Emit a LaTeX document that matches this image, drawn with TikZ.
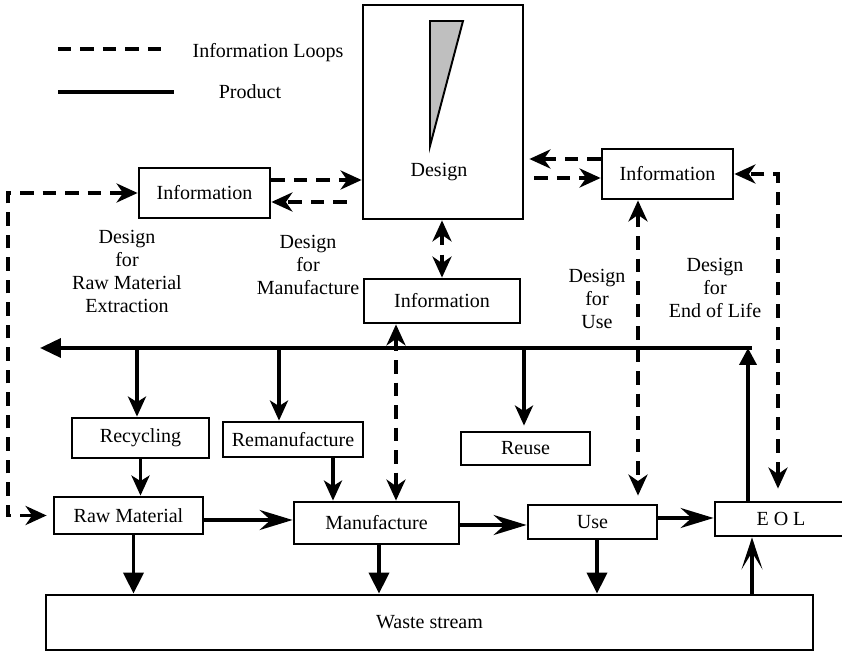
\documentclass[tikz,border=0pt]{standalone}
\usepackage{fontspec}
\setmainfont{Liberation Serif}
\usepackage{tikz}
\usetikzlibrary{calc, positioning, arrows.meta}
\newcommand\txtfont{\fontsize{11.4}{13.1}\selectfont}
\tikzset{
    box/.style={rectangle, draw=black, line width=1.6pt, fill=white, inner sep=0pt, align=center, font=\txtfont},
    note/.style={align=center, inner sep=0pt, font=\txtfont},
    infoloop/.style={line width=2.1pt, dash pattern=on 0.27cm off 0.18cm},
    product/.style={line width=2.1pt},
    infoTip/.tip={Stealth[length=0.42cm, width=0.38cm, inset=0.13cm]},
    flowTip/.tip={Stealth[length=0.66cm, width=0.4cm, inset=0.22cm]},
    dropTip/.tip={Stealth[length=0.4cm, width=0.36cm, inset=0.11cm]},
    wasteTip/.tip={Triangle[length=0.42cm, width=0.4cm]},
    upTip/.tip={Triangle[length=0.34cm, width=0.34cm]},
    busTip/.tip={Triangle[length=0.42cm, width=0.38cm]},
    openTip/.tip={Stealth[length=0.64cm, width=0.42cm, inset=0.34cm]}
}

\begin{document}
\begin{tikzpicture}[x=0.02cm, y=-0.02cm]
    \useasboundingbox (0,0) rectangle (842,651);
    \clip (0,0) rectangle (842,651);

    % Legend
    \coordinate (legA) at (58,49);
    \coordinate (legB) at (165,49);
    \coordinate (legC) at (58,92);
    \coordinate (legD) at (174,92);
    \draw[infoloop] (legA) -- (legB);
    \draw[product] (legC) -- (legD);
    \node[note] (legInfo) at (268,53) {Information Loops};
    \node[note] (legProd) at (250,92) {Product};

    % Design block
    \node[box, minimum width=3.2cm, minimum height=4.28cm] (design) at (443,112) {};
    \draw[fill=gray!50, line width=1.1pt] (430,21) -- (463,21) -- (430,146) -- cycle;
    \node[note] (designTxt) at (439,172) {Design};

    % Information boxes
    \node[box, minimum width=2.62cm, minimum height=1cm] (infoL) at (204.5,193) {Information};
    \node[box, minimum width=2.62cm, minimum height=1cm] (infoR) at (667.5,174) {Information};
    \node[box, minimum width=3.12cm, minimum height=0.88cm] (infoM) at (442,301) {Information};

    % Recovery boxes
    \node[box, minimum width=2.74cm, minimum height=0.8cm] (recyc) at (140.5,438) {Recycling};
    \node[box, minimum width=2.8cm, minimum height=0.7cm] (reman) at (293,439.5) {Remanufacture};
    \node[box, minimum width=2.58cm, minimum height=0.66cm] (reuse) at (525.5,448.5) {Reuse};

    % Life cycle stages
    \node[box, minimum width=2.98cm, minimum height=0.74cm] (raw) at (128.5,515.5) {Raw Material};
    \node[box, minimum width=3.3cm, minimum height=0.84cm] (manu) at (376.5,523) {Manufacture};
    \node[box, minimum width=2.58cm, minimum height=0.68cm] (use) at (592.5,522) {Use};
    \node[box, minimum width=2.64cm, minimum height=0.68cm] (eol) at (781,519) {E O L};
    \node[box, minimum width=15.34cm, minimum height=1.1cm] (waste) at (429.5,622.5) {Waste stream};

    % Design for ... labels
    \node[note] (dfRaw) at (127,271.5) {Design\\for\\Raw Material\\Extraction};
    \node[note] (dfMan) at (308,265) {Design\\for\\Manufacture};
    \node[note] (dfUse) at (597,298.5) {Design\\for\\Use};
    \node[note] (dfEol) at (715,288) {Design\\for\\End of Life};

    % Information loops
    \draw[infoloop, -infoTip] ([yshift=0.26cm]infoL.east) -- ([yshift=0.26cm]infoL.east -| design.west);
    \draw[infoloop, -infoTip, shorten <=0.3cm] ([yshift=-0.18cm]infoL.east -| design.west) -- ([yshift=-0.18cm]infoL.east);
    \draw[infoloop, -infoTip, shorten >=0.1cm] ([yshift=0.3cm]infoR.west) -- ([yshift=0.3cm]infoR.west -| design.east);
    \draw[infoloop, -infoTip, shorten <=0.2cm] ([yshift=-0.08cm]infoR.west -| design.east) -- ([yshift=-0.08cm]infoR.west);
    \draw[infoloop, dash pattern=on 0.22cm off 0.2cm, infoTip-infoTip] (infoM.north |- design.south) -- (infoM.north);
    \draw[infoloop, infoTip-infoTip] ([xshift=-0.92cm]infoM.south) -- ([xshift=-0.92cm]infoM.south |- manu.north);
    \draw[infoloop, infoTip-infoTip, shorten >=0.16cm] ([xshift=-0.59cm]infoR.south) -- ([xshift=-0.59cm]infoR.south |- use.north);
    \draw[infoloop, infoTip-infoTip, shorten <=0.24cm] ([xshift=-0.06cm]eol.north) |- (infoR.east);
    \coordinate (loopL) at (8,350);
    \draw[infoloop, infoTip-infoTip, shorten <=0.12cm] (raw.west) -| (loopL) |- (infoL.west);

    % Product return line
    \coordinate (busR) at (752,348);
    \coordinate (busL) at (40,348);
    \coordinate (eolUp) at (748,348);
    \coordinate (tapRec) at (137,348);
    \coordinate (tapRem) at (279,348);
    \coordinate (tapReu) at (524,348);
    \draw[product, -busTip] (busR) -- (busL);
    \draw[product, -upTip] (eolUp |- eol.north) -- (eolUp);
    \draw[product, -openTip] (busR |- waste.north) -- (busR |- eol.south);
    \draw[product, -dropTip] (tapRec) -- (tapRec |- recyc.north);
    \draw[product, -dropTip] (tapRem) -- (tapRem |- reman.north);
    \draw[product, -dropTip, shorten >=0.1cm] (tapReu) -- (tapReu |- reuse.north);
    \draw[product, -dropTip] (recyc.south) -- (recyc.south |- raw.north);
    \draw[product, -dropTip] ([xshift=0.8cm]reman.south) -- ([xshift=0.8cm]reman.south |- manu.north);

    % Product flow
    \draw[product, -flowTip] ([yshift=-0.09cm]raw.east) -- ([yshift=-0.09cm]raw.east -| manu.west);
    \draw[product, -flowTip] ([yshift=-0.04cm]manu.east) -- ([yshift=-0.04cm]manu.east -| use.west);
    \draw[product, -flowTip] ([yshift=0.08cm]use.east) -- ([yshift=0.08cm]use.east -| eol.west);

    % To waste stream
    \draw[product, -wasteTip] ([xshift=0.1cm]raw.south) -- ([xshift=0.1cm]raw.south |- waste.north);
    \draw[product, -wasteTip] ([xshift=0.05cm]manu.south) -- ([xshift=0.05cm]manu.south |- waste.north);
    \draw[product, -wasteTip] ([xshift=0.09cm]use.south) -- ([xshift=0.09cm]use.south |- waste.north);
\end{tikzpicture}
\end{document}
